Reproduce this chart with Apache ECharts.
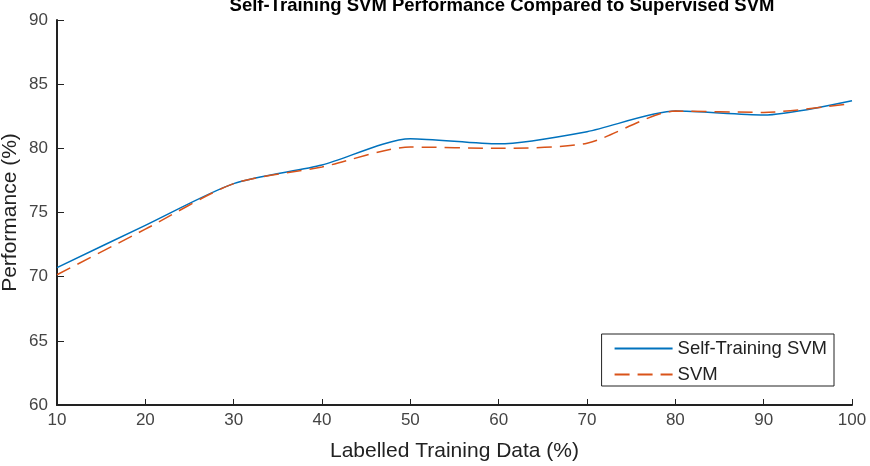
<!DOCTYPE html>
<html>
<head>
<meta charset="utf-8" />
<title>Self-Training SVM</title>
<script src="https://cdn.jsdelivr.net/npm/echarts@6/dist/echarts.min.js"></script>
<style>
  * { margin: 0; padding: 0; }
  #chart-container { width: 870px; height: 466px; background: #fff; }
</style>
</head>
<body>
<div id="chart-container"></div>
<script>
var labelled = [10, 20, 30, 40, 50, 60, 70, 80, 90, 100];
var selfTraining = [70.7, 74.0, 77.25, 78.7, 80.75, 80.35, 81.3, 82.9, 82.6, 83.7];
var svm = [70.15, 73.7, 77.25, 78.55, 80.1, 80.0, 80.4, 82.9, 82.8, 83.5];

var chart = echarts.init(document.getElementById("chart-container"), null, { renderer: "canvas" });

function pairs(ys) {
  var out = [];
  for (var i = 0; i < labelled.length; i++) out.push([labelled[i], ys[i]]);
  return out;
}

var font = "Liberation Sans";
var option = {
  animation: false,
  title: {
    text: "Self-Training SVM Performance Compared to Supervised SVM",
    left: 497,
    textAlign: "center",
    top: -9,
    textStyle: { fontFamily: font, fontSize: 18.5, fontWeight: "bold", color: "#000" }
  },
  grid: { left: 57, right: 18, top: 20, bottom: 61, outerBoundsMode: "none", containLabel: false },
  legend: {
    orient: "vertical",
    right: 36,
    bottom: 80,
    itemWidth: 58,
    itemHeight: 14,
    itemGap: 7,
    padding: [5, 7, 2, 12],
    borderColor: "#222",
    borderWidth: 1,
    itemStyle: { opacity: 0 },
    textStyle: { fontFamily: font, fontSize: 18.5, lineHeight: 18, color: "#222" },
    data: ["Self-Training SVM", "SVM"]
  },
  xAxis: {
    type: "value",
    min: 10, max: 100, interval: 10,
    name: "Labelled Training Data (%)",
    nameLocation: "middle",
    nameGap: 36,
    nameMoveOverlap: false,
    nameTextStyle: { fontFamily: font, fontSize: 21, color: "#222" },
    axisLine: { lineStyle: { color: "#222", width: 2 } },
    axisTick: { inside: true, length: 6, lineStyle: { color: "#222" } },
    axisLabel: { fontFamily: font, fontSize: 17, color: "#444", margin: 7 },
    splitLine: { show: false }
  },
  yAxis: {
    type: "value",
    min: 60, max: 90, interval: 5,
    name: "Performance (%)",
    nameLocation: "middle",
    nameGap: 36,
    nameMoveOverlap: false,
    nameTextStyle: { fontFamily: font, fontSize: 21, color: "#222" },
    axisLine: { show: true, lineStyle: { color: "#222", width: 2 } },
    axisTick: { show: true, inside: true, length: 7, lineStyle: { color: "#222" } },
    axisLabel: { fontFamily: font, fontSize: 17, color: "#444", margin: 9 },
    splitLine: { show: false }
  },
  series: [
    {
      name: "Self-Training SVM",
      type: "line",
      data: pairs(selfTraining),
      symbol: "none",
      smooth: 0.25,
      color: "#0072BD",
      lineStyle: { width: 1.5, color: "#0072BD" }
    },
    {
      name: "SVM",
      type: "line",
      data: pairs(svm),
      symbol: "none",
      smooth: 0.25,
      color: "#D95319",
      lineStyle: { width: 1.5, color: "#D95319", type: [15, 8] }
    }
  ]
};

chart.setOption(option);
window.addEventListener("resize", chart.resize);
</script>
</body>
</html>
